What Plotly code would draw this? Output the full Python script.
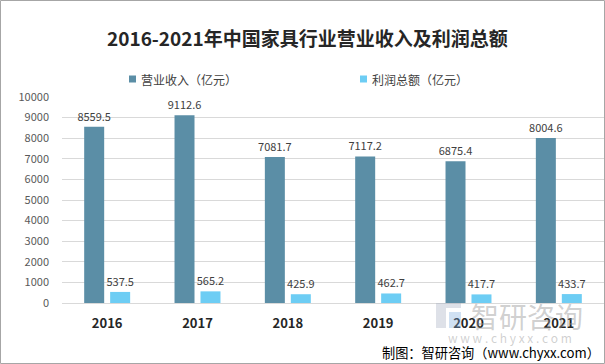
import plotly.graph_objects as go

years = ["2016", "2017", "2018", "2019", "2020", "2021"]
revenue = [8559.5, 9112.6, 7081.7, 7117.2, 6875.4, 8004.6]
profit = [537.5, 565.2, 425.9, 462.7, 417.7, 433.7]
name_rev = "营业收入（亿元）"
name_profit = "利润总额（亿元）"
y_ticks = [0, 1000, 2000, 3000, 4000, 5000, 6000, 7000, 8000, 9000, 10000]
color_rev = "#5b8ea6"
color_profit = "#6dcdf4"

W, H = 605, 364
L, R, T, B = 62, 1, 97, 61
PW, PH = W - L - R, H - T - B

def px(x):
    return (x - L) / PW

def py(y):
    return (H - B - y) / PH

CJK = "Noto Sans CJK SC, Microsoft YaHei, sans-serif"

fig = go.Figure()
fig.add_trace(go.Bar(
    x=years, y=revenue, name=name_rev,
    marker=dict(color=color_rev, line=dict(width=0)),
    text=[f"{v:.1f}" for v in revenue], textposition="outside", constraintext="none",
    textfont=dict(size=11, color="#404040", family=CJK), cliponaxis=False,
))
fig.add_trace(go.Bar(
    x=years, y=profit, name=name_profit,
    marker=dict(color=color_profit, line=dict(width=0)),
    text=[f"{v:.1f}" for v in profit], textposition="outside", constraintext="none",
    textfont=dict(size=11, color="#404040", family=CJK), cliponaxis=False,
))

fig.update_layout(
    width=W, height=H,
    margin=dict(l=L, r=R, t=T, b=B, pad=0, autoexpand=False),
    paper_bgcolor="white", plot_bgcolor="white",
    barmode="group", bargap=0.425, bargroupgap=0.23,
    font=dict(family=CJK, color="#404040"),
    showlegend=False,
    xaxis=dict(
        showgrid=False, showline=True, linecolor="#d9d9d9", linewidth=1,
        tickfont=dict(size=13, color="#262626", family=CJK),
        ticks="", ticklabelstandoff=8,
    ),
    yaxis=dict(
        range=[0, 10000], tickvals=y_ticks, ticktext=[str(v) for v in y_ticks],
        showgrid=True, gridcolor="#d9d9d9",
        gridwidth=1, zeroline=False, showline=False,
        tickfont=dict(size=11, color="#595959", family=CJK),
        ticklabelstandoff=12,
    ),
)

fig.update_xaxes(tickprefix="<b>", ticksuffix="</b>")

annotations = [
    dict(text="<b>2016-2021年中国家具行业营业收入及利润总额</b>", x=px(307), y=py(38),
         xref="paper", yref="paper", showarrow=False, xanchor="center", yanchor="middle",
         font=dict(size=19, color="#262626", family=CJK)),
    # legend texts
    dict(text=name_rev, x=px(139), y=py(79), xref="paper", yref="paper", showarrow=False,
         xanchor="left", yanchor="middle", font=dict(size=12, color="#404040", family=CJK)),
    dict(text=name_profit, x=px(370), y=py(79), xref="paper", yref="paper", showarrow=False,
         xanchor="left", yanchor="middle", font=dict(size=12, color="#404040", family=CJK)),
    # watermark
    dict(text="智研咨询", x=px(527), y=py(316), xref="paper", yref="paper", showarrow=False,
         xanchor="center", yanchor="middle",
         font=dict(size=28, color="rgba(150,150,150,0.45)", family=CJK)),
    dict(text="w w w . c h y x x . c o m", x=px(510), y=py(337), xref="paper", yref="paper",
         showarrow=False, xanchor="center", yanchor="middle",
         font=dict(size=12, color="rgba(150,150,150,0.45)", family=CJK)),
    # source
    dict(text="制图：智研咨询（www.chyxx.com）", x=px(602), y=py(352), xref="paper", yref="paper",
         showarrow=False, xanchor="right", yanchor="middle",
         font=dict(size=13.2, color="#000000", family=CJK)),
]
fig.update_layout(annotations=annotations)

shapes = [
    dict(type="rect", xref="paper", yref="paper", x0=px(0.5), x1=px(W - 0.5),
         y0=py(H - 0.5), y1=py(0.5), line=dict(color="#a6a6a6", width=1), fillcolor="rgba(0,0,0,0)"),
    # legend swatches
    dict(type="rect", xref="paper", yref="paper", x0=px(129), x1=px(136), y0=py(82.5), y1=py(75.5),
         line=dict(width=0), fillcolor=color_rev),
    dict(type="rect", xref="paper", yref="paper", x0=px(360), x1=px(367), y0=py(82.5), y1=py(75.5),
         line=dict(width=0), fillcolor=color_profit),
    # watermark logo blocks
    dict(type="rect", xref="paper", yref="paper", x0=px(436), x1=px(446), y0=py(328), y1=py(303),
         line=dict(width=0), fillcolor="rgba(160,170,190,0.35)", layer="above"),
    dict(type="rect", xref="paper", yref="paper", x0=px(446), x1=px(461), y0=py(308), y1=py(303),
         line=dict(width=0), fillcolor="rgba(160,170,190,0.35)", layer="above"),
    dict(type="rect", xref="paper", yref="paper", x0=px(449), x1=px(461), y0=py(328), y1=py(312),
         line=dict(width=0), fillcolor="rgba(120,170,220,0.35)", layer="above"),
]
fig.update_layout(shapes=shapes)

fig.write_html(
    "out.html",
    config={"displayModeBar": False},
    post_script="document.body.style.margin='0';document.body.style.overflow='hidden';",
)
